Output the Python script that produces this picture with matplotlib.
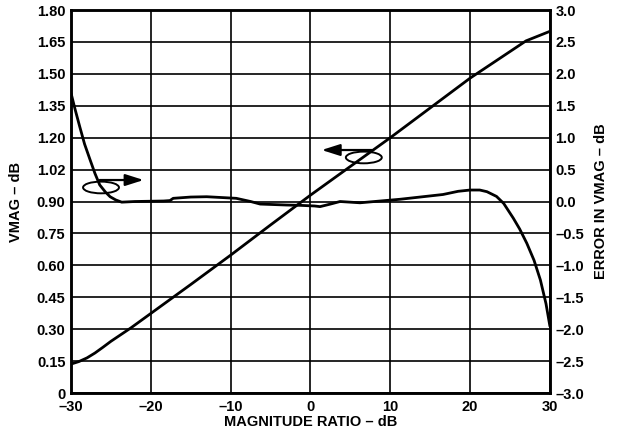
import matplotlib
matplotlib.use("Agg")
import matplotlib.pyplot as plt
from matplotlib.patches import Ellipse

plt.rcParams["font.family"] = ["Liberation Sans", "DejaVu Sans"]
plt.rcParams["font.weight"] = "bold"

# VMAG (left axis) vs magnitude ratio
vmag_x = [-30, -29, -28, -27, -26, -25, -22.5, -20, -15, -10, -5, 0, 5, 10, 15, 20,
          23, 25, 27, 29, 30]
vmag_y = [0.136, 0.148, 0.165, 0.188, 0.215, 0.243, 0.306, 0.374, 0.51, 0.648, 0.79,
          0.93, 1.065, 1.2, 1.34, 1.48, 1.555, 1.605, 1.655, 1.685, 1.70]

# error in VMAG (right axis)
err_x = [-30, -29.5, -28.9, -28.3, -27.6, -27.0, -26.4, -25.7, -25.1, -24.4, -23.65,
         -22, -18.4, -17.6, -17.2, -15, -13, -9.3, -7.5, -6.3, -3, -1.3, 0.5, 1.2,
         2.5, 3.7, 6.2, 11.2, 16.6, 18.5, 20, 21.2, 22.1, 23.3, 24.2, 25.4, 26.2,
         27.1, 28, 28.8, 29.5, 30]
err_y = [1.70, 1.45, 1.17, 0.90, 0.65, 0.44, 0.26, 0.15, 0.075, 0.025, -0.01,
         0.0, 0.008, 0.015, 0.05, 0.07, 0.075, 0.05, 0.0, -0.04, -0.055, -0.06, -0.07,
         -0.08, -0.04, 0.0, -0.02, 0.035, 0.11, 0.16, 0.18, 0.18, 0.154, 0.08, -0.03,
         -0.26, -0.43, -0.655, -0.92, -1.23, -1.6, -1.96]

x_ticks = [-30, -20, -10, 0, 10, 20, 30]
x_labels = ["–30", "–20", "–10", "0", "10", "20", "30"]
left_ticks = [0, 0.15, 0.30, 0.45, 0.60, 0.75, 0.90, 1.05, 1.20, 1.35, 1.50, 1.65, 1.80]
left_labels = ["0", "0.15", "0.30", "0.45", "0.60", "0.75", "0.90", "1.02", "1.20",
               "1.35", "1.50", "1.65", "1.80"]
right_ticks = [-3.0, -2.5, -2.0, -1.5, -1.0, -0.5, 0.0, 0.5, 1.0, 1.5, 2.0, 2.5, 3.0]
right_labels = ["–3.0", "–2.5", "–2.0", "–1.5", "–1.0", "–0.5", "0.0", "0.5", "1.0",
                "1.5", "2.0", "2.5", "3.0"]

fig = plt.figure(figsize=(6.19, 4.41), dpi=100)
ax = fig.add_axes([0.1147, 0.1088, 0.7738, 0.8685])
ax2 = ax.twinx()

ax.set_xlim(-30, 30)
ax.set_ylim(0, 1.8)
ax2.set_ylim(-3, 3)

ax.set_xticks(x_ticks)
ax.set_xticklabels(x_labels)
ax.set_yticks(left_ticks)
ax.set_yticklabels(left_labels)
ax2.set_yticks(right_ticks)
ax2.set_yticklabels(right_labels)

for a in (ax, ax2):
    a.tick_params(length=0, labelsize=10.5, pad=4)
    for s in a.spines.values():
        s.set_linewidth(1.8)
ax.tick_params(axis="x", pad=5)

ax.grid(True, color="black", lw=1.2)
ax.set_axisbelow(True)

ax.plot(vmag_x, vmag_y, color="black", lw=2.0, solid_capstyle="butt")
ax2.plot(err_x, err_y, color="black", lw=2.0, solid_capstyle="butt")

ax.set_xlabel("MAGNITUDE RATIO – dB", fontsize=10.5, fontweight="bold", labelpad=1)
ax.set_ylabel("VMAG – dB", fontsize=10.5, fontweight="bold", labelpad=10)
ax2.set_ylabel("ERROR IN VMAG – dB", fontsize=10.5, fontweight="bold", labelpad=7)

# annotation ellipses with arrows pointing to the relevant axis
ax.add_patch(Ellipse((-26.24, 0.966), 4.5, 0.055, fill=False, ec="black", lw=1.4, zorder=5))
ax.annotate("", xy=(-20.9, 1.001), xytext=(-26.4, 1.001),
            arrowprops=dict(arrowstyle="-|>,head_length=1.1,head_width=0.35",
                            color="black", lw=1.6, shrinkA=0, shrinkB=0))
ax.add_patch(Ellipse((6.68, 1.107), 4.5, 0.055, fill=False, ec="black", lw=1.4, zorder=5))
ax.annotate("", xy=(1.4, 1.142), xytext=(7.7, 1.142),
            arrowprops=dict(arrowstyle="-|>,head_length=1.1,head_width=0.35",
                            color="black", lw=1.6, shrinkA=0, shrinkB=0))

fig.savefig("out.png", dpi=100)
